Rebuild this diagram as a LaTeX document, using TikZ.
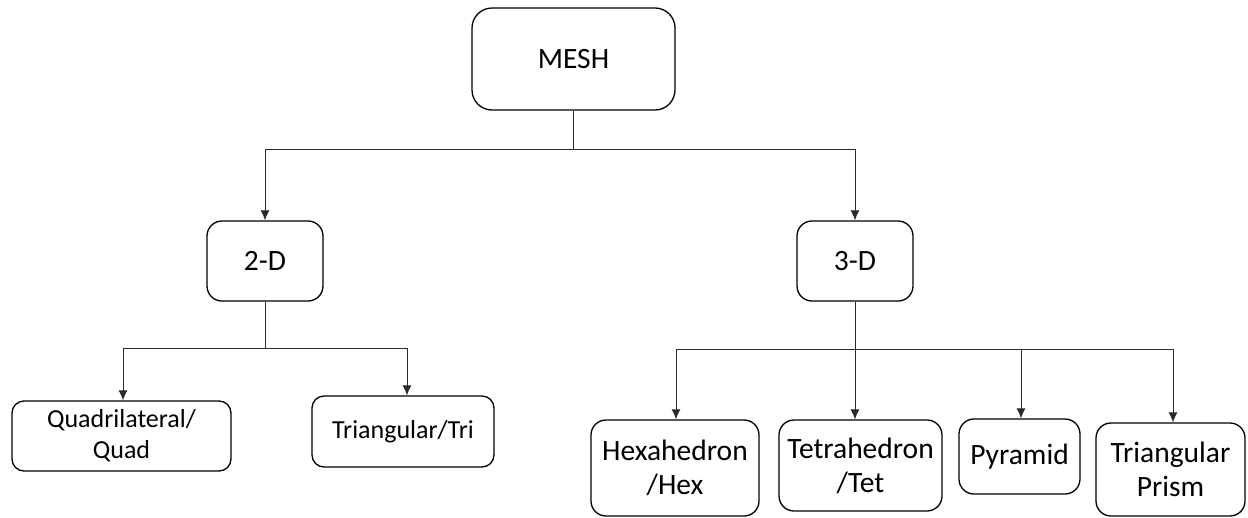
\documentclass[tikz,border=0pt]{standalone}
\usepackage{fontspec}
\setmainfont{Carlito}
\usetikzlibrary{arrows.meta}
\definecolor{meshline}{HTML}{2A2A2A}

\begin{document}
\begin{tikzpicture}[x=1pt,y=-1pt,
  box/.style={draw=black,line width=1.3pt,rounded corners=15pt,align=center,inner sep=0pt,
    font=\fontsize{29.5}{34}\selectfont},
  smallbox/.style={box,rounded corners=12pt,font=\fontsize{26}{31}\selectfont},
  link/.style={meshline,line width=0.9pt},
  arr/.style={link,-{Latex[length=10pt,width=9pt]}}]
  \useasboundingbox (0,0) rectangle (1248,517);
  \node[box,rounded corners=20pt,minimum width=203pt,minimum height=102pt] (mesh) at (573.5,59) {MESH};
  \node[box,minimum width=116pt,minimum height=80pt] (twod) at (265,261) {2-D};
  \node[box,minimum width=116pt,minimum height=80pt] (threed) at (855,261) {3-D};
  \node[smallbox,minimum width=219pt,minimum height=70pt] (quad) at (121.5,436) {Quadrilateral/\\Quad};
  \node[smallbox,minimum width=182pt,minimum height=71pt] (tri) at (403,431.5) {Triangular/Tri};
  \node[box,minimum width=168pt,minimum height=96pt] (hex) at (675,468) {Hexahedron\\/Hex};
  \node[box,minimum width=163pt,minimum height=91pt] (tet) at (860.5,465.5) {Tetrahedron\\/Tet};
  \node[box,minimum width=121pt,minimum height=75pt] (pyr) at (1019.5,456.5) {Pyramid};
  \node[box,minimum width=149pt,minimum height=93pt] (prism) at (1170.5,469.5) {Triangular\\Prism};
  \draw[link] (mesh.south) -- (mesh.south |- 0,149) coordinate (b1);
  \draw[arr] (b1) -| (twod.north);
  \draw[arr] (b1) -| (threed.north);
  \draw[link] (twod.south) -- (twod.south |- 0,348) coordinate (b2);
  \draw[arr] (b2) -| ([xshift=1.5pt]quad.north);
  \draw[arr] (b2) -| ([xshift=4pt]tri.north);
  \draw[arr] (threed.south) -- (threed.south |- tet.north);
  \coordinate (b3) at (threed.south |- 0,349);
  \draw[arr] (b3) -| ([xshift=1pt]hex.north);
  \draw[arr] (b3) -| ([xshift=1.5pt]pyr.north);
  \draw[arr] (b3) -| ([xshift=2.5pt]prism.north);
\end{tikzpicture}
\end{document}
